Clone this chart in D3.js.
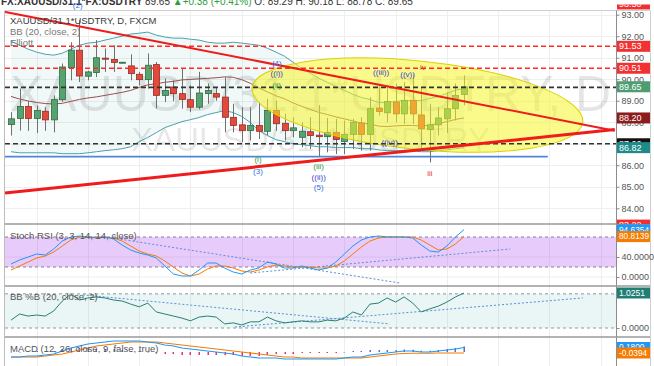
<!DOCTYPE html>
<html><head><meta charset="utf-8">
<script src="https://cdn.jsdelivr.net/npm/d3@7/dist/d3.min.js"></script>
<style>html,body{margin:0;padding:0;background:#fff;overflow:hidden}svg{display:block;font-family:"Liberation Sans",Arial,Helvetica,sans-serif}</style>
</head><body>
<svg id="chart" width="654" height="366"></svg>
<script>
// ---------- DATA ----------
const open  = [87.89,88.17,88.73,88.17,88.51,88.11,89.05,90.54,91.35,90.14,90.31,90.98,90.92,90.78,90.62,90.23,89.98,90.68,89.25,89.64,89.33,89.05,88.70,89.33,89.33,89.17,88.23,87.88,87.61,87.85,87.58,88.55,87.95,87.61,87.30,87.56,87.40,87.33,87.53,87.11,87.43,87.97,87.43,88.66,88.44,88.94,88.39,89.02,88.34,87.66,87.88,88.16,88.63,89.29];
const high  = [88.47,89.57,89.00,88.78,88.70,89.25,90.73,91.72,92.75,90.40,91.82,91.43,91.58,90.80,91.16,90.34,91.20,90.80,90.04,89.95,90.50,89.71,90.34,89.80,89.64,90.10,88.86,88.70,88.70,88.93,89.09,89.00,88.40,88.23,88.00,88.23,88.80,88.20,88.16,88.08,88.16,88.23,89.17,89.71,89.75,89.80,89.87,90.20,89.64,88.86,88.70,89.40,89.80,90.18];
const low   = [87.38,87.61,87.60,87.50,87.60,87.53,88.95,89.95,89.87,89.95,90.10,90.34,90.34,90.75,89.95,89.71,89.56,88.64,88.94,88.98,88.63,88.47,88.60,88.86,89.00,87.53,87.53,87.07,87.15,87.22,87.38,87.60,87.15,87.30,86.83,86.76,86.40,86.60,86.52,86.52,86.76,86.68,86.68,88.31,88.00,88.00,87.92,87.92,86.76,86.13,87.38,87.50,88.08,88.78];
const close = [88.16,88.73,88.17,88.55,88.11,89.05,90.57,91.35,90.15,90.34,91.00,90.93,90.78,90.79,90.26,89.98,90.65,89.25,89.48,89.33,89.06,88.70,89.36,89.48,89.17,88.23,87.85,87.61,87.85,87.58,88.55,87.93,87.61,87.74,87.58,87.38,87.33,87.53,87.20,87.43,88.00,87.43,88.63,88.50,88.97,88.39,89.02,88.39,87.69,87.88,88.20,88.63,89.25,89.65];

const bbUpper = [91.77,91.58,91.40,91.26,91.16,91.12,91.21,91.40,91.58,91.68,91.72,91.82,91.91,92.00,92.10,92.14,92.19,92.05,91.96,91.91,91.91,91.86,91.82,91.72,91.68,91.68,91.72,91.68,91.63,91.58,91.44,91.26,91.07,90.79,90.51,90.28,90.05,89.86,89.67,89.49,89.30,89.15,89.06,88.92,88.92,88.97,89.01,89.01,89.01,89.11,89.20,89.34,89.49,89.58];
const bbBasis = [89.20,89.08,88.99,88.92,88.87,88.85,88.88,88.97,89.06,89.13,89.18,89.25,89.32,89.39,89.48,89.62,89.74,89.79,89.86,89.90,89.97,89.99,90.02,90.04,90.07,90.11,90.09,89.98,89.81,89.60,89.41,89.23,89.09,88.90,88.74,88.60,88.46,88.36,88.25,88.16,88.06,87.96,87.92,87.82,87.80,87.83,87.85,87.85,87.82,87.87,87.94,88.03,88.13,88.20];
const bbLower = [86.63,86.58,86.58,86.58,86.58,86.58,86.54,86.54,86.54,86.58,86.63,86.68,86.72,86.77,86.86,87.10,87.29,87.52,87.75,87.89,88.03,88.12,88.22,88.36,88.45,88.54,88.45,88.27,87.99,87.61,87.38,87.19,87.10,87.00,86.96,86.91,86.86,86.86,86.82,86.82,86.82,86.77,86.77,86.72,86.68,86.68,86.68,86.68,86.63,86.63,86.68,86.72,86.77,86.82];

const stochK = [26,34,40,46,44,56,72,80,82,80,78,80,76,64,54,48,44,38,22,6,2,2,14,28,28,18,10,6,14,18,30,26,18,18,22,18,14,18,30,46,62,74,80,82,80,80,80,78,64,52,50,62,80,94.6354];
const stochD = [14,22,30,38,42,50,62,74,80,80,80,80,78,72,62,52,46,42,32,20,8,2,6,16,22,22,18,12,10,14,20,24,22,20,20,20,18,18,22,32,46,60,72,78,80,80,80,80,74,64,54,56,66,80.8139];
const bbPct  = [0.23,0.41,0.35,0.38,0.35,0.50,0.79,1.00,0.82,0.88,0.91,0.88,0.82,0.79,0.70,0.62,0.73,0.47,0.41,0.35,0.29,0.21,0.32,0.35,0.32,0.12,0.15,0.09,0.18,0.18,0.32,0.21,0.15,0.18,0.21,0.18,0.18,0.23,0.21,0.29,0.47,0.38,0.70,0.73,0.88,0.76,0.91,0.73,0.47,0.56,0.64,0.76,0.91,1.0251];
const macdLine = [-0.20,-0.20,-0.16,-0.16,-0.12,-0.08,0.04,0.16,0.24,0.32,0.36,0.40,0.44,0.44,0.44,0.44,0.40,0.36,0.28,0.24,0.16,0.12,0.08,0.04,0.00,-0.04,-0.08,-0.16,-0.20,-0.24,-0.24,-0.24,-0.28,-0.28,-0.28,-0.28,-0.28,-0.28,-0.28,-0.24,-0.20,-0.20,-0.12,-0.08,-0.04,0.00,0.04,0.04,0.00,0.00,0.04,0.08,0.12,0.18];
const macdSignal = [-0.20,-0.20,-0.20,-0.20,-0.16,-0.12,-0.08,0.00,0.08,0.16,0.24,0.28,0.32,0.36,0.40,0.40,0.40,0.40,0.36,0.32,0.28,0.24,0.20,0.16,0.12,0.08,0.04,0.00,-0.04,-0.08,-0.12,-0.16,-0.20,-0.20,-0.24,-0.24,-0.24,-0.24,-0.24,-0.24,-0.24,-0.24,-0.20,-0.16,-0.12,-0.08,-0.06,-0.05,-0.05,-0.05,-0.04,-0.04,-0.04,-0.0394];
const macdHist = [0,0,0.04,0.04,0.04,0.04,0.12,0.16,0.16,0.16,0.12,0.12,0.12,0.08,0.04,0.04,0,-0.04,-0.08,-0.08,-0.12,-0.12,-0.12,-0.12,-0.12,-0.12,-0.12,-0.16,-0.16,-0.16,-0.12,-0.08,-0.08,-0.08,-0.04,-0.04,-0.04,-0.04,-0.04,0,0.04,0.04,0.08,0.08,0.08,0.08,0.10,0.09,0.05,0.05,0.08,0.12,0.16,0.22];

const priceTicks = [84,85,86,87,88,89,90,91,92,93];
const stochTicks = [40,0];
const bbTicks = [0];
const stochBand = [80,20];
const bbBand = [1,0];
const redLevels = [91.53,90.51];
const blackLevels = [89.62,87.00];
const blueLevel = {v:86.40, toIdx:62.8};
const vGrid = [3,9,15,21,27,33,39,45,51,57,63,69];
// trendlines: [idx1, val1, idx2, val2]
const trendDown = [-0.7,93.13,70.64,87.61];
const trendUp   = [-0.7,84.71,70.64,87.66];
const stochTrends = [[11.9,78,45.5,-12],[28,8,58.4,56]];
const bbTrends = [[8.4,0.97,44.3,0.12],[26.2,0.03,66.9,0.88]];
const ellipse = {i:47.55, v:88.80, ri:19.45, rv:2.05, rot:5.9};
const waveText = ["(2)","(4)","((i))","(ii)","(i)","(3)","(iii)","((ii))","(5)","((iii))","((v))","iv","iii","((iv))"];
const waveIdx  = [7.8,31.1,31.1,31.1,28.9,28.9,36,36,36,43.3,46.4,48.2,49,44.3];
const waveVal  = [93.45,90.76,90.28,89.72,86.30,85.74,85.98,85.46,85.0,90.32,90.22,90.58,85.65,87.05];
const mainLabels = [93.50,91.53,90.51,89.65,88.20,87.00,86.82,83.22];
const headerParts = ["FX:XAUUSD/31.1*FX:USDTRY","89.65","▲+0.38 (+0.41%)","O: 89.29  H: 90.18  L: 88.78  C: 89.65"];

// ---------- LAYOUT ----------
const svg=d3.select('#chart');
const PL=5, AX=616, PR=650;
const P={main:[11,224],sto:[224,286],bb:[286,337],macd:[337,366]};
const N=close.length;
const x=d3.scaleLinear().domain([0,53]).range([11,464]);
const y=d3.scaleLinear().domain([84,93]).range([208.3,14.7]);
const ys=d3.scaleLinear().domain([0,40]).range([277,257]);
const yb=d3.scaleLinear().domain([0,1.0251]).range([328,293]);
const ym=d3.scaleLinear().domain([0,0.2]).range([352,347]);
const idx=d3.range(N);

svg.append('rect').attr('width',654).attr('height',366).attr('fill','#fff');
const defs=svg.append('defs');
function mkClip(id,y0,y1,x0=PL,x1=AX){defs.append('clipPath').attr('id',id).append('rect').attr('x',x0).attr('y',y0).attr('width',x1-x0).attr('height',y1-y0);}
mkClip('cMain',P.main[0],P.main[1]);
mkClip('cSto',P.sto[0],P.sto[1]);
mkClip('cBB',P.bb[0],P.bb[1]);
mkClip('cMacd',P.macd[0],P.macd[1]);
mkClip('cAxMain',4.5,P.main[1],AX,PR);
mkClip('cAxSto',P.sto[0],P.sto[1],AX,PR);

// header
const hdr=svg.append('text').attr('x',1).attr('y',4.5).attr('font-size',10).attr('fill','#333');
hdr.append('tspan').attr('font-weight','bold').text(headerParts[0]+' ');
hdr.append('tspan').text(headerParts[1]+' ');
hdr.append('tspan').attr('fill','#2e9d3e').text(headerParts[2]+' ');
hdr.append('tspan').text(headerParts[3]);

// vertical grid (all panes)
const gridG=svg.append('g');
[['cMain',P.main],['cSto',P.sto],['cBB',P.bb],['cMacd',P.macd]].forEach(([c,r])=>{
  gridG.append('g').attr('clip-path',`url(#${c})`).selectAll('line').data(vGrid).join('line')
   .attr('x1',d=>Math.round(x(d))+0.5).attr('x2',d=>Math.round(x(d))+0.5).attr('y1',r[0]).attr('y2',r[1])
   .attr('stroke','#eeeeee');
});

// ---------- MAIN PANE ----------
const gM=svg.append('g').attr('clip-path','url(#cMain)');
gM.selectAll('.hg').data(priceTicks).join('line').attr('x1',PL).attr('x2',AX)
  .attr('y1',d=>Math.round(y(d))+0.5).attr('y2',d=>Math.round(y(d))+0.5).attr('stroke','#efefef');
// watermark
gM.append('text').attr('x',(PL+AX)/2).attr('y',111).attr('text-anchor','middle').attr('font-size',50)
  .attr('fill','#000').attr('fill-opacity',0.1).text('XAUUSD/31.1*USDTRY, D');
gM.append('text').attr('x',(PL+AX)/2).attr('y',151).attr('text-anchor','middle').attr('font-size',33)
  .attr('fill','#000').attr('fill-opacity',0.1).text('XAUUSD/31.1*USDTRY');
// bollinger
gM.append('path').datum(idx).attr('d',d3.area().x(i=>x(i)).y0(i=>y(bbLower[i])).y1(i=>y(bbUpper[i])))
  .attr('fill','#0b8a8a').attr('fill-opacity',0.06);
const ln=(arr,sc)=>d3.line().x(i=>x(i)).y(i=>sc(arr[i]));
gM.append('path').datum(idx).attr('d',ln(bbUpper,y)).attr('fill','none').attr('stroke','#4aa2ad').attr('stroke-width',1);
gM.append('path').datum(idx).attr('d',ln(bbLower,y)).attr('fill','none').attr('stroke','#4aa2ad').attr('stroke-width',1);
gM.append('path').datum(idx).attr('d',ln(bbBasis,y)).attr('fill','none').attr('stroke','#9a5050').attr('stroke-width',1);
// candles
const cd=idx.map(i=>({i,o:open[i],h:high[i],l:low[i],c:close[i]}));
gM.append('g').selectAll('line').data(cd).join('line')
  .attr('x1',d=>Math.round(x(d.i))+0.5).attr('x2',d=>Math.round(x(d.i))+0.5)
  .attr('y1',d=>y(d.h)).attr('y2',d=>y(d.l)).attr('stroke','#707070').attr('stroke-width',1);
gM.append('g').selectAll('rect').data(cd).join('rect')
  .attr('x',d=>Math.round(x(d.i))-2.5).attr('width',6)
  .attr('y',d=>y(Math.max(d.o,d.c))).attr('height',d=>Math.max(1,Math.abs(y(d.o)-y(d.c))))
  .attr('fill',d=>d.c>=d.o?'#56a36f':'#e24a3d').attr('stroke',d=>d.c>=d.o?'#2f6b45':'#9a2c22').attr('stroke-width',0.8);
// ellipse
const ecx=x(ellipse.i), ecy=y(ellipse.v);
gM.append('ellipse').attr('cx',ecx).attr('cy',ecy)
  .attr('rx',x(ellipse.i+ellipse.ri)-ecx).attr('ry',y(ellipse.v-ellipse.rv)-ecy)
  .attr('transform',`rotate(${ellipse.rot},${ecx},${ecy})`)
  .attr('fill','#f5f52a').attr('fill-opacity',0.55).attr('stroke','#dcd000').attr('stroke-width',1);
// horizontal levels
gM.selectAll('.rl').data(redLevels).join('line').attr('x1',PL).attr('x2',AX).attr('y1',d=>y(d)).attr('y2',d=>y(d))
  .attr('stroke','#ff2a2a').attr('stroke-width',1.4).attr('stroke-dasharray','5,3');
gM.selectAll('.bl').data(blackLevels).join('line').attr('x1',PL).attr('x2',AX).attr('y1',d=>y(d)).attr('y2',d=>y(d))
  .attr('stroke','#333').attr('stroke-width',1.6).attr('stroke-dasharray','5,3');
gM.append('line').attr('x1',PL).attr('x2',x(blueLevel.toIdx)).attr('y1',y(blueLevel.v)).attr('y2',y(blueLevel.v))
  .attr('stroke','#4f86d6').attr('stroke-width',1.6);
// trendlines
gM.append('line').attr('x1',x(trendDown[0])).attr('y1',y(trendDown[1])).attr('x2',x(trendDown[2])).attr('y2',y(trendDown[3]))
  .attr('stroke','#ee1c1c').attr('stroke-width',2);
gM.append('line').attr('x1',x(trendUp[0])).attr('y1',y(trendUp[1])).attr('x2',x(trendUp[2])).attr('y2',y(trendUp[3]))
  .attr('stroke','#ee1c1c').attr('stroke-width',3);
// legend
const leg=gM.append('g').attr('font-size',9.5);
leg.append('text').attr('x',10).attr('y',24).attr('fill','#3a3a3a').text('XAUUSD/31.1*USDTRY, D, FXCM');
leg.append('text').attr('x',10).attr('y',35).attr('fill','#777').text('BB (20, close, 2)');
leg.append('text').attr('x',10).attr('y',46).attr('fill','#777').text('Elliott');
// elliott wave labels (unclipped)
const wcol=t=>t.startsWith('((')?'#3a44c8':(/\(\d\)/.test(t)?'#2f6fe0':(t.startsWith('(')?'#2e9d3e':'#e53935'));
svg.append('g').selectAll('text').data(waveText).join('text')
  .attr('x',(d,k)=>x(waveIdx[k])).attr('y',(d,k)=>y(waveVal[k])).attr('dy','0.35em')
  .attr('text-anchor','middle').attr('font-size',8).attr('fill',d=>wcol(d)).text(d=>d);

// ---------- STOCH RSI ----------
const gS=svg.append('g').attr('clip-path','url(#cSto)');
gS.selectAll('.g').data(stochTicks).join('line').attr('x1',PL).attr('x2',AX).attr('y1',d=>ys(d)).attr('y2',d=>ys(d)).attr('stroke','#eeeeee');
gS.append('rect').attr('x',PL).attr('width',AX-PL).attr('y',ys(stochBand[0])).attr('height',ys(stochBand[1])-ys(stochBand[0]))
  .attr('fill','#9c27f0').attr('fill-opacity',0.24);
gS.selectAll('.b').data(stochBand).join('line').attr('x1',PL).attr('x2',AX).attr('y1',d=>ys(d)).attr('y2',d=>ys(d))
  .attr('stroke','#8a7f9a').attr('stroke-dasharray','3,3');
stochTrends.forEach(t=>gS.append('line').attr('x1',x(t[0])).attr('y1',ys(t[1])).attr('x2',x(t[2])).attr('y2',ys(t[3]))
  .attr('stroke','#5b8fd6').attr('stroke-dasharray','2,2'));
gS.append('path').datum(idx).attr('d',ln(stochD,ys)).attr('fill','none').attr('stroke','#f57c00').attr('stroke-width',1);
gS.append('path').datum(idx).attr('d',ln(stochK,ys)).attr('fill','none').attr('stroke','#2196f3').attr('stroke-width',1);
gS.append('text').attr('x',10).attr('y',239).attr('font-size',9.5).attr('fill','#555').text('Stoch RSI (3, 3, 14, 14, close)');

// ---------- BB %B ----------
const gB=svg.append('g').attr('clip-path','url(#cBB)');
gB.append('rect').attr('x',PL).attr('width',AX-PL).attr('y',yb(bbBand[0])).attr('height',yb(bbBand[1])-yb(bbBand[0]))
  .attr('fill','#26a69a').attr('fill-opacity',0.1);
gB.selectAll('.b').data(bbBand).join('line').attr('x1',PL).attr('x2',AX).attr('y1',d=>yb(d)).attr('y2',d=>yb(d))
  .attr('stroke','#8a9a9a').attr('stroke-dasharray','3,3');
bbTrends.forEach(t=>gB.append('line').attr('x1',x(t[0])).attr('y1',yb(t[1])).attr('x2',x(t[2])).attr('y2',yb(t[3]))
  .attr('stroke','#5b8fd6').attr('stroke-dasharray','2,2'));
gB.append('path').datum(idx).attr('d',ln(bbPct,yb)).attr('fill','none').attr('stroke','#2a7f74').attr('stroke-width',1);
gB.append('text').attr('x',10).attr('y',300).attr('font-size',9.5).attr('fill','#555').text('BB %B (20, close, 2)');

// ---------- MACD ----------
const gC=svg.append('g').attr('clip-path','url(#cMacd)');
gC.selectAll('rect').data(idx).join('rect').attr('x',i=>Math.round(x(i))-0.5).attr('width',1.5)
  .attr('y',i=>Math.min(ym(0),ym(macdHist[i]))).attr('height',i=>Math.max(0.5,Math.abs(ym(macdHist[i])-ym(0))))
  .attr('fill',i=>macdHist[i]>=0?'#5a6fd0':'#e8336a');
gC.append('path').datum(idx).attr('d',ln(macdSignal,ym)).attr('fill','none').attr('stroke','#f57c00').attr('stroke-width',1.2);
gC.append('path').datum(idx).attr('d',ln(macdLine,ym)).attr('fill','none').attr('stroke','#2196f3').attr('stroke-width',1.2);
gC.append('text').attr('x',10).attr('y',352).attr('font-size',9.5).attr('fill','#555').text('MACD (12, 26, close, 9, false, true)');

// ---------- FRAME ----------
svg.append('line').attr('x1',PL).attr('x2',PR).attr('y1',10.5).attr('y2',10.5).attr('stroke','#cfcfcf');
svg.append('line').attr('x1',PL-0.5).attr('x2',PL-0.5).attr('y1',10.5).attr('y2',366).attr('stroke','#bdbdbd');
svg.append('line').attr('x1',PR+0.5).attr('x2',PR+0.5).attr('y1',10.5).attr('y2',366).attr('stroke','#cfcfcf');
svg.append('line').attr('x1',AX+0.5).attr('x2',AX+0.5).attr('y1',10.5).attr('y2',366).attr('stroke','#8c8c8c');
[P.sto[0],P.bb[0],P.macd[0]].forEach(v=>svg.append('line').attr('x1',PL).attr('x2',PR).attr('y1',v).attr('y2',v)
  .attr('stroke','#9a9a9a').attr('stroke-width',1.5));

// ---------- AXES ----------
function axis(sc,ticks,fmt){
  const g=svg.append('g').attr('transform',`translate(${AX+0.5},0)`)
   .call(d3.axisRight(sc).tickValues(ticks).tickSize(3).tickPadding(2).tickFormat(fmt));
  g.select('.domain').remove();
  g.selectAll('text').attr('font-size',9).attr('fill','#555').attr('font-family','"Liberation Sans",Arial,sans-serif');
  g.selectAll('line').attr('stroke','#888');
}
axis(y,priceTicks,d=>d.toFixed(2));
axis(ys,stochTicks,d=>d.toFixed(4));
axis(yb,bbTicks,d=>d.toFixed(4));

function tag(g,yy,txt,bg,fs=9){
  g.append('rect').attr('x',AX+1).attr('y',yy-5.5).attr('width',PR-AX-1).attr('height',11).attr('fill',bg);
  g.append('text').attr('x',AX+3).attr('y',yy).attr('dy','0.35em').attr('font-size',fs).attr('fill','#fff').text(txt);
}
const gAM=svg.append('g').attr('clip-path','url(#cAxMain)');
const mainCols=['#f03030','#f23232','#f23232','#4d9c72','#8c1d1d','#111111','#1f8a8a','#f03030'];
mainLabels.forEach((v,k)=>tag(gAM,y(v),v.toFixed(2),mainCols[k]));
const gAS=svg.append('g').attr('clip-path','url(#cAxSto)');
tag(gAS,ys(stochK[N-1]),stochK[N-1].toFixed(4),'#2196f3',8.3);
tag(gAS,ys(stochD[N-1]),stochD[N-1].toFixed(4),'#f57c00',8.3);
const gAx=svg.append('g');
tag(gAx,yb(bbPct[N-1]),bbPct[N-1].toFixed(4),'#1f7f74',8.5);
tag(gAx,ym(macdLine[N-1]),macdLine[N-1].toFixed(4),'#2196f3',8.3);
tag(gAx,ym(macdSignal[N-1]),macdSignal[N-1].toFixed(4),'#f57c00',8.3);
</script>
</body></html>
